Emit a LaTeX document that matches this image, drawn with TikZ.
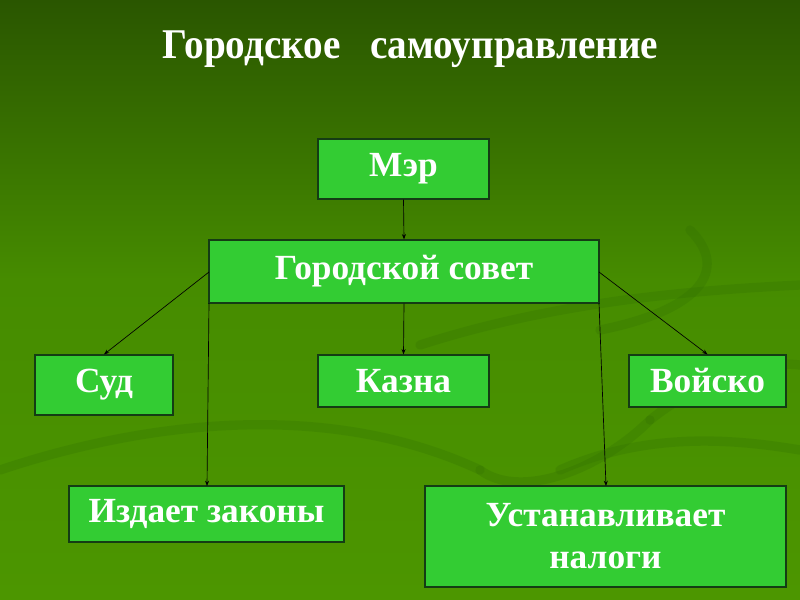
\documentclass[tikz,border=0pt]{standalone}
\usepackage{fontspec}
\usepackage{graphicx}
\setmainfont{Liberation Serif}
\usetikzlibrary{arrows.meta}
\definecolor{boxfill}{RGB}{51,204,51}
\definecolor{boxline}{RGB}{20,60,20}
\definecolor{bgtop}{RGB}{42,86,0}
\definecolor{bgmid}{RGB}{70,140,0}
\definecolor{bgbot}{RGB}{76,150,0}
\definecolor{swirl}{RGB}{45,105,0}
\tikzset{
  box/.style={draw=boxline, line width=0.9pt, fill=boxfill, text=white,
    font=\bfseries\fontsize{26.5}{29}\selectfont, inner sep=0pt, align=center},
  link/.style={draw=black, line width=0.5pt, -{Stealth[length=4pt,width=3pt]}},
  swirlline/.style={draw=swirl, line width=7pt, opacity=0.22, line cap=round}
}
\begin{document}
\begin{tikzpicture}[x=0.75pt,y=-0.75pt]
\useasboundingbox (0,0) rectangle (800,600);
\shade[top color=bgtop, bottom color=bgmid] (0,0) rectangle (800,280);
\shade[top color=bgmid, bottom color=bgbot] (0,280) rectangle (800,600);
% faint swirls
\draw[swirlline] (690,230) .. controls (730,270) and (700,310) .. (600,330);
\draw[swirlline] (420,345) .. controls (560,300) and (700,290) .. (800,285);
\draw[swirlline] (0,470) .. controls (150,420) and (330,400) .. (480,470);
\draw[swirlline] (480,470) .. controls (520,500) and (600,470) .. (650,420);
\draw[swirlline] (650,420) .. controls (700,380) and (760,360) .. (800,365);
\draw[swirlline] (560,470) .. controls (650,430) and (740,440) .. (800,450);
% title
\node[text=white, font=\bfseries\fontsize{29.4}{33}\selectfont] (title) at (410.5,49) {\scalebox{1}[1.08]{Городское\ \ \ самоуправление}};
% boxes
\node[box, minimum width=171*0.75pt, minimum height=60*0.75pt] (mayor) at (403.5,169) {Мэр};
\node[box, minimum width=390*0.75pt, minimum height=63*0.75pt] (council) at (404,271.5) {Городской совет};
\node[box, minimum width=138*0.75pt, minimum height=60*0.75pt] (court) at (104,385) {Суд};
\node[box, minimum width=171*0.75pt, minimum height=52*0.75pt] (treasury) at (403.5,381) {Казна};
\node[box, minimum width=157*0.75pt, minimum height=52*0.75pt] (army) at (707.5,381) {Войско};
\node[box, minimum width=275*0.75pt, minimum height=56*0.75pt] (laws) at (206.5,514) {Издает законы};
\node[box, minimum width=361*0.75pt, minimum height=101*0.75pt, font=\bfseries\fontsize{26.5}{31.5}\selectfont] (taxes) at (605.5,536.5) {Устанавливает\\налоги};
% connectors
\coordinate (cl) at (209,272);
\coordinate (cr) at (599,272);
\coordinate (cbl) at (209,303);
\coordinate (cbr) at (599,303);
\coordinate (lawsin) at (207,486);
\coordinate (taxesin) at (606,486);
\draw[link] (mayor.south) -- (council.north);
\draw[link] (cl) -- (court.north);
\draw[link] (council.south) -- (treasury.north);
\draw[link] (cr) -- (army.north);
\draw[link] (cbl) -- (lawsin);
\draw[link] (cbr) -- (taxesin);
\end{tikzpicture}
\end{document}
